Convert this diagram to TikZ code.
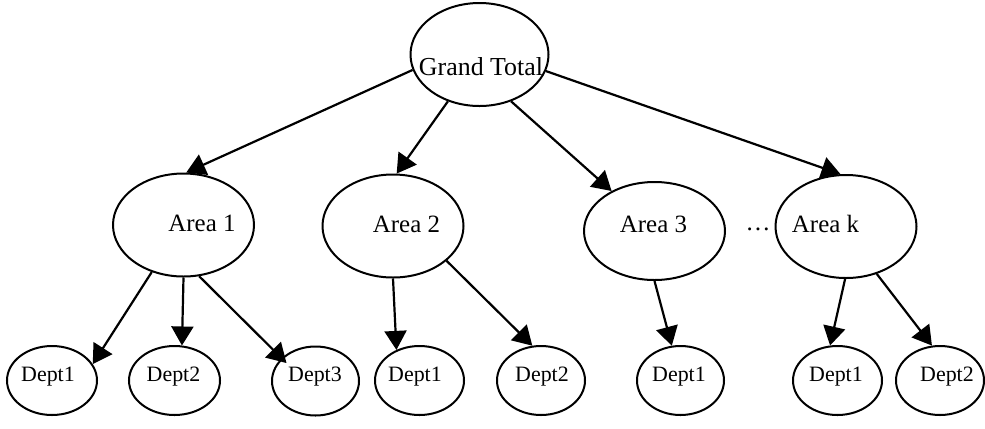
\documentclass[tikz,border=0pt]{standalone}
\usepackage{fontspec}
\setmainfont{Liberation Serif}
\usetikzlibrary{shapes.geometric,arrows.meta}

\tikzset{
  oval/.style={ellipse, draw=black, line width=2bp, inner sep=0pt},
  topnode/.style={oval, minimum width=138bp, minimum height=103bp},
  areanode/.style={oval, minimum width=141bp, minimum height=103bp},
  deptnode/.style={oval, minimum width=88bp, minimum height=69bp},
  txt/.style={anchor=base, inner sep=0pt, font=\fontsize{#1}{#1}\selectfont},
  link/.style={line width=2.2bp, -{Triangle[length=19bp,width=22bp]}}
}

\begin{document}
\begin{tikzpicture}[x=1bp, y=-1bp]
  \useasboundingbox (0,0) rectangle (985,428);

  % root
  \node[topnode] (gt) at (479.5,54.5) {};
  \node[txt=26] (gtt) at (481,75) {Grand Total};

  % areas
  \node[areanode] (a1) at (183.5,225) {};
  \node[areanode] (a2) at (393,226) {};
  \node[areanode, minimum height=98bp] (a3) at (654.5,231) {};
  \node[areanode] (ak) at (846,226.5) {};
  \node[txt=25] (a1t) at (202,231) {Area 1};
  \node[txt=25] (a2t) at (406.5,232) {Area 2};
  \node[txt=25] (a3t) at (653.5,232) {Area 3};
  \node[txt=25] (akt) at (825.5,232) {Area k};
  \node[txt=25] (dots) at (758,230) {\ldots};

  % departments
  \node[deptnode, minimum width=90bp] (d11) at (52,380.5) {};
  \node[deptnode, minimum width=91bp] (d12) at (174.5,380.5) {};
  \node[deptnode, minimum width=87bp] (d13) at (315.5,381) {};
  \node[deptnode, minimum width=89bp] (d21) at (419.5,380.5) {};
  \node[deptnode] (d22) at (541,380.5) {};
  \node[deptnode, minimum width=87bp] (d31) at (680.5,380.5) {};
  \node[deptnode, minimum width=89bp] (dk1) at (837.5,380.5) {};
  \node[deptnode] (dk2) at (940,380.5) {};

  \node[txt=22] (d11t) at (48,381) {Dept1};
  \node[txt=22] (d12t) at (173.5,381) {Dept2};
  \node[txt=22] (d13t) at (315,381) {Dept3};
  \node[txt=22] (d21t) at (415,381) {Dept1};
  \node[txt=22] (d22t) at (542,381) {Dept2};
  \node[txt=22] (d31t) at (679,381) {Dept1};
  \node[txt=22] (dk1t) at (836,381) {Dept1};
  \node[txt=22] (dk2t) at (947,381) {Dept2};

  % root to areas
  \draw[link] (gt.193.5) -- (a1.87.2);
  \draw[link] (gt.236.2) -- (a2.86.7);
  \draw[link] (gt.304.6) -- (a3.137.2);
  \draw[link] (gt.346.8) -- (ak.96.6);

  % areas to departments
  \draw[link] (a1.236.2) -- (d11.22.4);
  \draw[link] (a1.270) -- (d12.78);
  \draw[link, shorten >=-7bp] (a1.287.3) -- (d13.146.8);
  \draw[link] (a2.270) -- (d21.127.5);
  \draw[link] (a2.327.8) -- (d22.104.6);
  \draw[link] (a3.270) -- (d31.104.2);
  \draw[link] (ak.269) -- (dk1.102.6);
  \draw[link] (ak.303.4) -- (dk2.103.4);
\end{tikzpicture}
\end{document}
